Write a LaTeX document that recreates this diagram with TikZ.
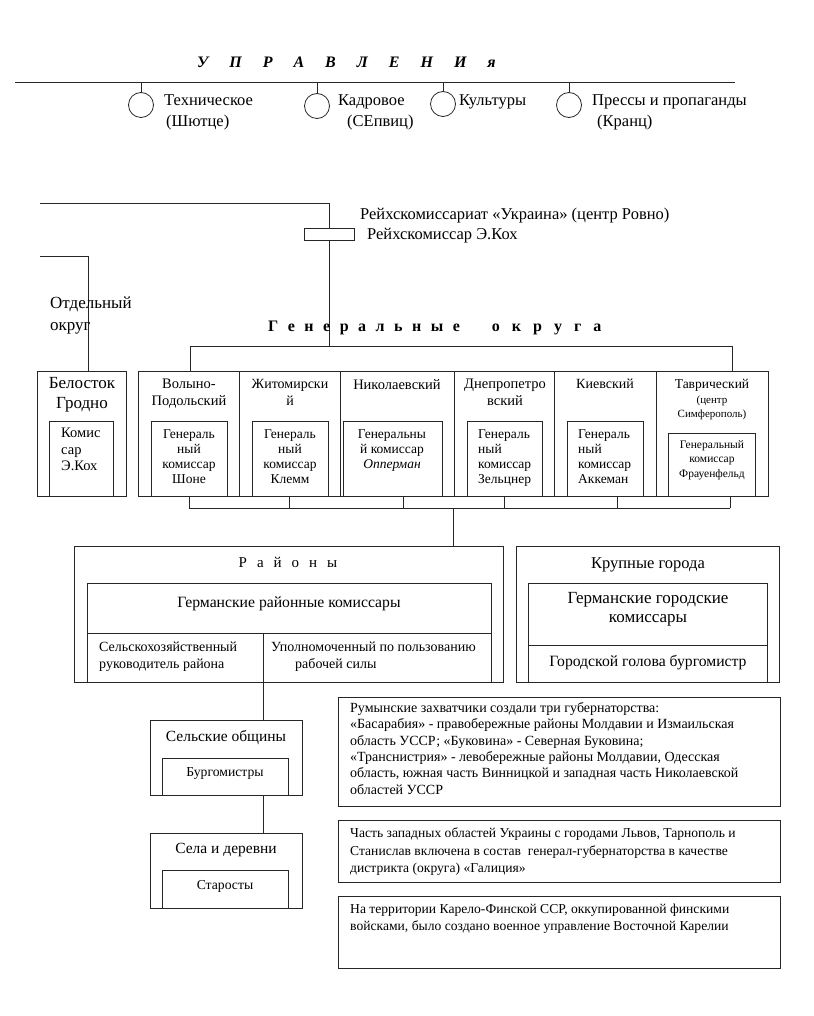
\documentclass[tikz,border=0pt]{standalone}
\usepackage{fontspec}
\setmainfont{Liberation Serif}
\newcommand{\bxx}[5]{\node[bx, minimum width={(#4)-(#2)}, minimum height={(#5)-(#3)}] (#1) at (#2,#3) {};}
\begin{document}
\begin{tikzpicture}[x=1pt,y=-1pt,
  ln/.style={line width=0.8pt, draw=black!85},
  bx/.style={draw=black!85, line width=0.8pt, inner sep=0pt, outer sep=0pt, anchor=north west},
  circ/.style={circle, draw=black!85, line width=0.8pt, minimum size=25pt, inner sep=0pt},
  lab/.style={inner sep=0pt, anchor=base west, font=\fontsize{16.5}{18}\selectfont},
  rk/.style={inner sep=0pt, anchor=base west, font=\fontsize{16.5}{18}\selectfont},
  ttl/.style={inner sep=0pt, anchor=north, align=center, font=\fontsize{14.5}{17}\selectfont},
  inr/.style={inner sep=0pt, anchor=north, align=center, font=\fontsize{13.5}{15}\selectfont},
  inl/.style={inner sep=0pt, anchor=north west, align=left, font=\fontsize{13.5}{15}\selectfont},
  note/.style={inner sep=0pt, anchor=north west, align=left, font=\fontsize{14}{16.4}\selectfont},
  ctr/.style={inner sep=0pt, anchor=base, font=\fontsize{15}{17}\selectfont},
]
\useasboundingbox (0,0) rectangle (813,1016);

% ---------- Управления ----------
\node[inner sep=0pt, anchor=base west, font=\fontsize{16}{18}\selectfont\bfseries\itshape] (upr) at (197,68)
  {У\hskip21pt П\hskip21pt Р\hskip21pt А\hskip21pt В\hskip21pt Л\hskip21pt Е\hskip21pt Н\hskip21pt И\hskip21pt я};
\coordinate (uL) at (15,82);
\coordinate (uR) at (735,82);
\draw[ln] (uL) -- (uR);
\node[circ] (c1) at (141,105) {};
\node[circ] (c2) at (317,106) {};
\node[circ] (c3) at (443,104) {};
\node[circ] (c4) at (569,105) {};
\foreach \c in {c1,c2,c3,c4} \draw[ln] (\c.north) -- (\c.north |- uL);
\node[lab] (l1a) at (164,106) {Техническое};
\node[lab] (l1b) at (166,127) {(Шютце)};
\node[lab] (l2a) at (338,106) {Кадровое};
\node[lab] (l2b) at (347,127) {(СЕпвиц)};
\node[lab] (l3a) at (459,106) {Культуры};
\node[lab] (l4a) at (592,106) {Прессы и пропаганды};
\node[lab] (l4b) at (597,127) {(Кранц)};

% ---------- Рейхскомиссариат ----------
\coordinate (rL) at (40,203);
\coordinate (rT) at (329,203);
\bxx{rbox}{304}{228}{354}{240}
\draw[ln] (rL) -- (rT) -- (rT |- rbox.north);
\coordinate (gT) at (329,346);
\draw[ln] (rbox.south -| gT) -- (gT);
\node[rk] (rk1) at (360,220) {Рейхскомиссариат «Украина» (центр Ровно)};
\node[rk] (rk2) at (367,240) {Рейхскомиссар Э.Кох};

% ---------- Отдельный округ ----------
\coordinate (oL) at (40,256);
\coordinate (oC) at (88,256);
\bxx{bel}{37}{371}{126}{496}
\bxx{belin}{49}{421}{113}{496}
\draw[ln] (oL) -- (oC) -- (oC |- bel.north);
\node[lab, font=\fontsize{17}{19}\selectfont] (od1) at (50,308) {Отдельный};
\node[lab, font=\fontsize{17}{19}\selectfont] (od2) at (50,330) {округ};
\node[ttl, font=\fontsize{17}{20}\selectfont] (belt) at (82,377) {Белосток\\Гродно};
\node[inl, font=\fontsize{14.5}{16.5}\selectfont] (belit) at (61,428) {Комис\\сар\\Э.Кох};

% ---------- Генеральные округа ----------
\node[inner sep=0pt, anchor=base west, font=\fontsize{16}{19}\selectfont\bfseries] (gen) at (268,331)
  {Г\hskip9.5pt е\hskip9.5pt н\hskip9.5pt е\hskip9.5pt р\hskip9.5pt а\hskip9.5pt л\hskip9.5pt ь\hskip9.5pt н\hskip9.5pt ы\hskip9.5pt е\hskip32pt о\hskip12pt к\hskip12pt р\hskip12pt у\hskip12pt г\hskip12pt а};
\coordinate (gL) at (190,346);
\coordinate (gR) at (732,346);
\draw[ln] (gL) -- (gR);

\bxx{k1}{138}{371}{239}{496}
\bxx{k2}{239}{371}{340}{496}
\bxx{k3}{340}{371}{454}{496}
\bxx{k4}{454}{371}{554}{496}
\bxx{k5}{554}{371}{656}{496}
\bxx{k6}{656}{371}{768}{496}
\bxx{i1}{151}{421}{227}{496}
\bxx{i2}{252}{421}{328}{496}
\bxx{i3}{343}{421}{442}{496}
\bxx{i4}{467}{421}{542}{496}
\bxx{i5}{567}{421}{643}{496}
\bxx{i6}{668}{433}{755}{496}
\draw[ln] (gL) -- (gL |- k1.north);
\draw[ln] (gR) -- (gR |- k6.north);

\node[ttl] (t1) at (189,379) {Волыно-\\Подольский};
\node[ttl, font=\fontsize{14}{17}\selectfont] (t2) at (290,379) {Житомирски\\й};
\node[ttl] (t3) at (397,379) {Николаевский};
\node[ttl] (t4) at (505,379) {Днепропетро\\вский};
\node[ttl, font=\fontsize{14}{17}\selectfont] (t5) at (605,379) {Киевский};
\node[ttl, font=\fontsize{13.5}{17}\selectfont] (t6) at (712,379) {Таврический};
\node[inner sep=0pt, anchor=north, align=center, font=\fontsize{11}{14}\selectfont] (t6b) at (712,396) {(центр\\Симферополь)};

\node[inr] (n1) at (189,429) {Генераль\\ный\\комиссар\\Шоне};
\node[inr] (n2) at (290,429) {Генераль\\ный\\комиссар\\Клемм};
\node[inr] (n3) at (392,429) {Генеральны\\й комиссар\\\textit{Опперман}};
\node[inl] (n4) at (478,429) {Генераль\\ный\\комиссар\\Зельцнер};
\node[inl] (n5) at (578,429) {Генераль\\ный\\комиссар\\Аккеман};
\node[inr, font=\fontsize{11.5}{14.5}\selectfont] (n6) at (712,440) {Генеральный\\комиссар\\Фрауенфельд};

% bottom bracket
\coordinate (bL) at (189,508);
\coordinate (bR) at (730,508);
\coordinate (b2) at (289,508);
\coordinate (b3) at (403,508);
\coordinate (b4) at (504,508);
\coordinate (b5) at (617,508);
\coordinate (bD) at (453,508);
\draw[ln] (bL) -- (bR);
\draw[ln] (bL) -- (bL |- k1.south);
\draw[ln] (b2) -- (b2 |- k2.south);
\draw[ln] (b3) -- (b3 |- k3.south);
\draw[ln] (b4) -- (b4 |- k4.south);
\draw[ln] (b5) -- (b5 |- k5.south);
\draw[ln] (bR) -- (bR |- k6.south);

% ---------- Районы ----------
\bxx{rai}{74}{546}{503}{682}
\bxx{rai1}{87}{583}{491}{633}
\bxx{rai2}{87}{633}{263}{682}
\bxx{rai3}{263}{633}{491}{682}
\draw[ln] (bD) -- (bD |- rai.north);
\node[ctr] (raiT) at (288,567) {Р\hskip10pt а\hskip10pt й\hskip10pt о\hskip10pt н\hskip10pt ы};
\node[ctr, font=\fontsize{15.7}{17}\selectfont] (rai1t) at (289,607) {Германские районные комиссары};
\node[inl, font=\fontsize{14}{16.5}\selectfont] (rai2t) at (99,642) {Сельскохозяйственный\\руководитель района};
\node[inl, font=\fontsize{14}{16.5}\selectfont] (rai3t) at (271,642) {Уполномоченный по пользованию\\\hspace*{24pt}рабочей силы};

% ---------- Крупные города ----------
\bxx{kr}{516}{546}{779}{682}
\bxx{kr1}{528}{583}{767}{645}
\bxx{kr2}{528}{645}{767}{682}
\node[ctr, font=\fontsize{16.5}{18}\selectfont] (krT) at (648,568) {Крупные города};
\node[inner sep=0pt, anchor=north, align=center, font=\fontsize{17}{19}\selectfont] (kr1t) at (648,592) {Германские городские\\комиссары};
\node[ctr, font=\fontsize{15.7}{17}\selectfont] (kr2t) at (648,666) {Городской голова бургомистр};

% ---------- Сельские общины / Села ----------
\bxx{sel}{150}{720}{302}{795}
\bxx{selin}{162}{758}{288}{795}
\bxx{sela}{150}{833}{302}{908}
\bxx{selain}{162}{870}{288}{908}
\draw[ln] (rai2.south east) -- (rai2.south east |- sel.north);
\draw[ln] (sel.south -| rai2.south east) -- (sela.north -| rai2.south east);
\node[ctr, font=\fontsize{15.5}{17}\selectfont] (selt) at (226,741) {Сельские общины};
\node[ctr, font=\fontsize{13.7}{15}\selectfont] (selit) at (225,776) {Бургомистры};
\node[ctr, font=\fontsize{15.5}{17}\selectfont] (selat) at (226,853) {Села и деревни};
\node[ctr, font=\fontsize{13.7}{15}\selectfont] (selait) at (225,889) {Старосты};

% ---------- Notes ----------
\bxx{rum}{338}{697}{780}{806}
\bxx{gal}{338}{820}{780}{882}
\bxx{kar}{338}{896}{780}{968}
\node[note] (rumt) at (350,702) {Румынские захватчики создали три губернаторства:\\
«Басарабия» - правобережные районы Молдавии и Измаильская\\
область УССР; «Буковина» - Северная Буковина;\\
«Транснистрия» - левобережные районы Молдавии, Одесская\\
область, южная часть Винницкой и западная часть Николаевской\\
областей УССР};
\node[note, font=\fontsize{13.6}{17.5}\selectfont] (galt) at (350,828) {Часть западных областей Украины с городами Львов, Тарнополь и\\
Станислав включена в состав\ \ генерал-губернаторства в качестве\\
дистрикта (округа) «Галиция»};
\node[note, font=\fontsize{13.6}{16.4}\selectfont] (kart) at (350,904) {На территории Карело-Финской ССР, оккупированной финскими\\
войсками, было создано военное управление Восточной Карелии};
\end{tikzpicture}
\end{document}
